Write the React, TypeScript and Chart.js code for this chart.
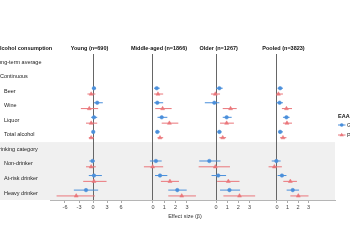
import React, { useEffect, useRef } from 'react';
import { Chart, registerables } from 'chart.js';

Chart.register(...registerables);

const FONT = '"Liberation Sans", Arial, Helvetica, sans-serif';

// Row labels (top to bottom)
const rowLabels = [
  'Long-term average',
  'Continuous',
  'Beer',
  'Wine',
  'Liquor',
  'Total alcohol',
  'Drinking category',
  'Non-drinker',
  'At-risk drinker',
  'Heavy drinker',
];
const sectionRows = ['Long-term average', 'Drinking category'];
const subSectionRows = ['Continuous'];

// Categories with estimates
const categories = ['Beer', 'Wine', 'Liquor', 'Total alcohol', 'Non-drinker', 'At-risk drinker', 'Heavy drinker'];

const panelTitles = ['Young (n=690)', 'Middle-aged (n=1866)', 'Older (n=1267)', 'Pooled (n=3823)'];
const youngTicks = [-6, -3, 0, 3, 6];
const otherTicks = [0, 1, 2, 3];

const seriesNames = ['GrimAge', 'PhenoAge'];

// Young
const youngGrimEst = [0.2, 0.9, 0.2, 0.05, -0.1, 0.2, -1.5];
const youngGrimLo = [-0.2, 0.2, -0.4, -0.2, -0.8, -0.9, -4.1];
const youngGrimHi = [0.6, 2.1, 0.9, 0.4, 0.4, 1.9, 1.1];
const youngPhenoEst = [-0.4, -0.8, -0.4, -0.4, -0.4, 0.2, -3.6];
const youngPhenoLo = [-1.2, -2.6, -1.5, -0.9, -1.5, -2.1, -7.8];
const youngPhenoHi = [0.5, 1.1, 0.9, 0.2, 0.6, 2.9, 0.4];

// Middle-aged
const middleGrimEst = [0.33, 0.38, 0.77, 0.38, 0.26, 0.62, 2.15];
const middleGrimLo = [0.1, 0.1, 0.4, 0.24, -0.27, 0.18, 1.35];
const middleGrimHi = [0.6, 0.9, 1.27, 0.6, 0.77, 1.27, 2.98];
const middlePhenoEst = [0.44, 0.85, 1.45, 0.62, -0.03, 1.5, 2.54];
const middlePhenoLo = [0.1, 0.2, 0.77, 0.4, -0.8, 0.7, 1.35];
const middlePhenoHi = [0.9, 1.65, 2.24, 0.9, 0.9, 2.3, 3.8];

// Older
const olderGrimEst = [0.3, -0.15, 0.95, 0.3, -0.6, 0.2, 1.2];
const olderGrimLo = [0.0, -1.0, 0.6, 0.13, -1.5, -0.4, 0.36];
const olderGrimHi = [0.6, 0.3, 1.4, 0.5, 0.4, 0.9, 2.15];
const olderPhenoEst = [-0.06, 1.3, 0.95, 0.6, -0.06, 1.1, 2.1];
const olderPhenoLo = [-0.45, 0.6, 0.36, 0.3, -1.55, 0.1, 0.66];
const olderPhenoHi = [0.36, 1.85, 1.6, 0.9, 1.25, 2.1, 3.5];

// Pooled
const pooledGrimEst = [0.3, 0.25, 0.9, 0.3, -0.06, 0.47, 1.5];
const pooledGrimLo = [0.06, -0.06, 0.57, 0.15, -0.5, 0.06, 0.92];
const pooledGrimHi = [0.57, 0.57, 1.2, 0.57, 0.35, 0.9, 2.1];
const pooledPhenoEst = [0.14, 0.9, 0.95, 0.57, -0.25, 1.27, 2.03];
const pooledPhenoLo = [-0.06, 0.47, 0.57, 0.3, -0.8, 0.6, 1.27];
const pooledPhenoHi = [0.57, 1.43, 1.43, 0.9, 0.47, 1.9, 3.0];

const panelData = [
  [
    { est: youngGrimEst, lo: youngGrimLo, hi: youngGrimHi },
    { est: youngPhenoEst, lo: youngPhenoLo, hi: youngPhenoHi },
  ],
  [
    { est: middleGrimEst, lo: middleGrimLo, hi: middleGrimHi },
    { est: middlePhenoEst, lo: middlePhenoLo, hi: middlePhenoHi },
  ],
  [
    { est: olderGrimEst, lo: olderGrimLo, hi: olderGrimHi },
    { est: olderPhenoEst, lo: olderPhenoLo, hi: olderPhenoHi },
  ],
  [
    { est: pooledGrimEst, lo: pooledGrimLo, hi: pooledGrimHi },
    { est: pooledPhenoEst, lo: pooledPhenoLo, hi: pooledPhenoHi },
  ],
];
const panelTicks = [youngTicks, otherTicks, otherTicks, otherTicks];

// styling / layout
const COLORS = ['#4a8fdb', '#ea777b'];
const POINT_STYLES = ['circle', 'triangle'];
const POINT_RADII = [1.8, 2.3];
const SERIES_OFFSET = [-0.2, 0.2];
const PANEL_WEIGHTS = [85, 63, 65, 72];
const PANEL_MIN = [-9.21, -1.59, -1.61, -1.33];
const PANEL_MAX = [8.99, 3.98, 4.2, 5.52];
const HEADER_X = [89.5, 159, 218.7, 283.5];

const textPlugin = {
  id: 'forestTexts',
  beforeDraw(chart: any) {
    const { ctx, chartArea, scales } = chart;
    const y = scales.y;
    const top = y.getPixelForValue(rowLabels.indexOf('Drinking category') - 0.5);
    ctx.save();
    ctx.fillStyle = '#f0f0f0';
    ctx.fillRect(0, top, chartArea.right, chartArea.bottom - top);
    ctx.restore();
  },
  afterDraw(chart: any) {
    const { ctx, scales } = chart;
    const y = scales.y;
    ctx.save();
    ctx.textBaseline = 'middle';
    // Column headers
    ctx.fillStyle = '#111';
    ctx.font = `bold 5.5px ${FONT}`;
    ctx.textAlign = 'left';
    ctx.fillText('Alcohol consumption', -4, 48);
    ctx.textAlign = 'center';
    panelTitles.forEach((t, i) => ctx.fillText(t, HEADER_X[i], 48));
    // Row labels
    ctx.font = `5.5px ${FONT}`;
    ctx.textAlign = 'left';
    ctx.fillStyle = '#222';
    rowLabels.forEach((lab, i) => {
      let x = 4;
      if (sectionRows.includes(lab)) x = -5;
      else if (subSectionRows.includes(lab)) x = 0;
      ctx.fillText(lab, x, y.getPixelForValue(i));
    });
    // Axis title
    ctx.textAlign = 'center';
    ctx.fillStyle = '#333';
    ctx.fillText('Effect size (\u03b2)', 185, 216);
    // Legend
    ctx.textAlign = 'left';
    ctx.font = `bold 5.5px ${FONT}`;
    ctx.fillStyle = '#111';
    ctx.fillText('EAA', 338, 116);
    ctx.font = `5.5px ${FONT}`;
    seriesNames.forEach((name, i) => {
      const ly = 125 + i * 10;
      ctx.strokeStyle = COLORS[i];
      ctx.fillStyle = COLORS[i];
      ctx.lineWidth = 1;
      ctx.beginPath();
      ctx.moveTo(338, ly);
      ctx.lineTo(345.5, ly);
      ctx.stroke();
      ctx.beginPath();
      if (i === 0) {
        ctx.arc(341.7, ly, 1.8, 0, Math.PI * 2);
      } else {
        ctx.moveTo(341.7, ly - 2.3);
        ctx.lineTo(343.8, ly + 1.3);
        ctx.lineTo(339.6, ly + 1.3);
        ctx.closePath();
      }
      ctx.fill();
      ctx.fillStyle = '#222';
      ctx.fillText(name, 347, ly);
    });
    ctx.restore();
  },
};

export default function App() {
  const ref = useRef<HTMLCanvasElement>(null);
  useEffect(() => {
    if (!ref.current) return;
    const datasets: any[] = [];
    panelData.forEach((pd, p) => {
      pd.forEach((d, si) => {
        const lineData: any[] = [];
        const ptData: any[] = [];
        categories.forEach((c, i) => {
          const row = rowLabels.indexOf(c) + SERIES_OFFSET[si];
          lineData.push({ x: d.lo[i], y: row }, { x: d.hi[i], y: row }, { x: null, y: null });
          ptData.push({ x: d.est[i], y: row });
        });
        datasets.push({
          label: `${seriesNames[si]} CI ${p}`,
          xAxisID: 'x' + p,
          yAxisID: 'y',
          data: lineData,
          borderColor: COLORS[si],
          borderWidth: 1,
          pointRadius: 0,
          spanGaps: false,
          fill: false,
          tension: 0,
          order: 2,
        });
        datasets.push({
          label: `${seriesNames[si]} ${p}`,
          xAxisID: 'x' + p,
          yAxisID: 'y',
          data: ptData,
          showLine: false,
          pointStyle: POINT_STYLES[si],
          pointRadius: POINT_RADII[si],
          backgroundColor: COLORS[si],
          borderColor: COLORS[si],
          borderWidth: 0.5,
          order: 1,
        });
      });
    });

    const scales: any = {
      y: {
        type: 'linear',
        display: false,
        reverse: true,
        min: -0.55,
        max: 9.48,
      },
    };
    panelTicks.forEach((tks, p) => {
      scales['x' + p] = {
        type: 'linear',
        position: 'bottom',
        stack: 'panels',
        stackWeight: PANEL_WEIGHTS[p],
        min: PANEL_MIN[p],
        max: PANEL_MAX[p],
        afterBuildTicks: (s: any) => {
          s.ticks = tks.map((v) => ({ value: v }));
        },
        afterFit: (s: any) => {
          s.height = 10;
        },
        grid: {
          color: (c: any) => (c.tick && c.tick.value === 0 ? '#666666' : 'rgba(0,0,0,0)'),
          lineWidth: 1,
          tickColor: '#aaaaaa',
          tickLength: 3,
          drawTicks: true,
        },
        border: { display: true, color: '#b5b5b5', width: 1 },
        ticks: {
          autoSkip: false,
          maxRotation: 0,
          padding: 1,
          color: '#444',
          font: { size: 5.5, family: FONT },
          callback: (v: any) => String(v),
        },
      };
    });

    const chart = new Chart(ref.current, {
      type: 'line',
      data: { datasets },
      options: {
        responsive: false,
        animation: false,
        events: [],
        layout: { padding: { left: 50, right: 15, top: 54, bottom: 40 } },
        plugins: { legend: { display: false }, tooltip: { enabled: false } },
        scales,
      } as any,
      plugins: [textPlugin],
    });
    return () => chart.destroy();
  }, []);

  return (
    <div style={{ position: 'absolute', left: 0, top: 0, width: 350, height: 250, background: '#fff' }}>
      <canvas ref={ref} width={350} height={250} style={{ display: 'block', width: 350, height: 250 }} />
    </div>
  );
}
